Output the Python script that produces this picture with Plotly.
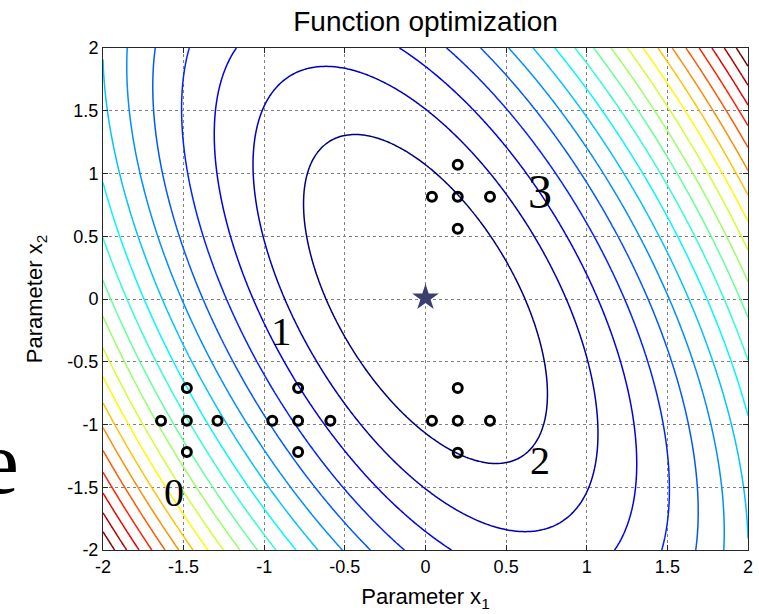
import numpy as np
import plotly.graph_objects as go

# Quadratic objective: f = a*x1^2 + b*x1*x2 + c*x2^2
coef_a = 1.0
coef_b = 0.667
coef_c = 0.333
level_start = 0.381
level_step = 0.381
level_end = 7.62

x1_grid = np.linspace(-2, 2, 241)
x2_grid = np.linspace(-2, 2, 241)

# Pattern-search poll points
poll_x1 = [-1.64, -1.48, -1.48, -1.48, -1.29,
           -0.95, -0.79, -0.79, -0.79, -0.59,
           0.04, 0.20, 0.20, 0.20, 0.40,
           0.04, 0.20, 0.20, 0.20, 0.40]
poll_x2 = [-0.97, -0.71, -0.97, -1.22, -0.97,
           -0.97, -0.71, -0.97, -1.22, -0.97,
           -0.97, -0.71, -0.97, -1.225, -0.97,
           0.815, 1.07, 0.815, 0.56, 0.815]

optimum_x1 = [0.0]
optimum_x2 = [0.01]

step_labels = ["0", "1", "2", "3"]
step_label_x1 = [-1.557, -0.893, 0.712, 0.712]
step_label_x2 = [-1.538, -0.255, -1.283, 0.86]
step_label_sizes = [40, 41, 40, 48]

tick_vals = [-2, -1.5, -1, -0.5, 0, 0.5, 1, 1.5, 2]
tick_text = ["-2", "-1.5", "-1", "-0.5", "0", "0.5", "1", "1.5", "2"]

X1, X2 = np.meshgrid(x1_grid, x2_grid)
Z = coef_a * X1**2 + coef_b * X1 * X2 + coef_c * X2**2

jet = [[0.0, "rgb(0,0,128)"], [0.125, "rgb(0,0,255)"], [0.375, "rgb(0,255,255)"],
       [0.625, "rgb(255,255,0)"], [0.875, "rgb(255,0,0)"], [1.0, "rgb(128,0,0)"]]

fig = go.Figure()
fig.add_trace(go.Contour(
    x=x1_grid, y=x2_grid, z=Z,
    autocontour=False,
    contours=dict(start=level_start, end=level_end, size=level_step, coloring="lines"),
    colorscale=jet, showscale=False,
    line=dict(width=1.5),
    hoverinfo="skip",
))
fig.add_trace(go.Scatter(
    x=poll_x1, y=poll_x2, mode="markers",
    marker=dict(symbol="circle-open", size=9, color="black", line=dict(width=3, color="black")),
    showlegend=False,
))
fig.add_trace(go.Scatter(
    x=optimum_x1, y=optimum_x2, mode="markers",
    marker=dict(symbol="star", size=20, color="#3b3f6e", line=dict(width=0)),
    showlegend=False,
))

for t, xx, yy, s in zip(step_labels, step_label_x1, step_label_x2, step_label_sizes):
    fig.add_annotation(x=xx, y=yy, xref="x", yref="y", text=t, showarrow=False,
                       font=dict(family="Liberation Serif, Times New Roman, serif", size=s, color="black"),
                       xanchor="center", yanchor="middle")

# partial slide letter at the left edge
fig.add_annotation(x=-0.161, y=0.175, xref="paper", yref="paper", text="e", showarrow=False,
                   font=dict(family="Liberation Serif, Times New Roman, serif", size=90, color="black"),
                   xanchor="center", yanchor="middle")

axis_common = dict(
    range=[-2, 2], tickvals=tick_vals, ticktext=tick_text,
    ticks="inside", ticklen=5, tickcolor="#262626",
    showline=True, linecolor="#262626", linewidth=1, mirror="allticks",
    showgrid=True, gridcolor="#808080", griddash="dot", gridwidth=1,
    zeroline=False, tickfont=dict(size=18, color="black"), automargin=False,
)

fig.update_layout(
    width=759, height=614,
    margin=dict(l=103, r=11, t=48, b=64),
    paper_bgcolor="white", plot_bgcolor="white",
    font=dict(family="Liberation Sans, Arial, sans-serif", color="black"),
    title=dict(text="Function optimization", x=0.5, xref="paper", xanchor="center",
               y=1 - 21 / 614, yref="container", yanchor="middle",
               font=dict(size=28, color="black")),
    xaxis=dict(**axis_common, title=dict(text="Parameter x<sub>1</sub>", font=dict(size=22), standoff=13)),
    yaxis=dict(**axis_common, title=dict(text="Parameter x<sub>2</sub>", font=dict(size=22), standoff=18)),
    showlegend=False,
)

fig.write_html("out.html")
